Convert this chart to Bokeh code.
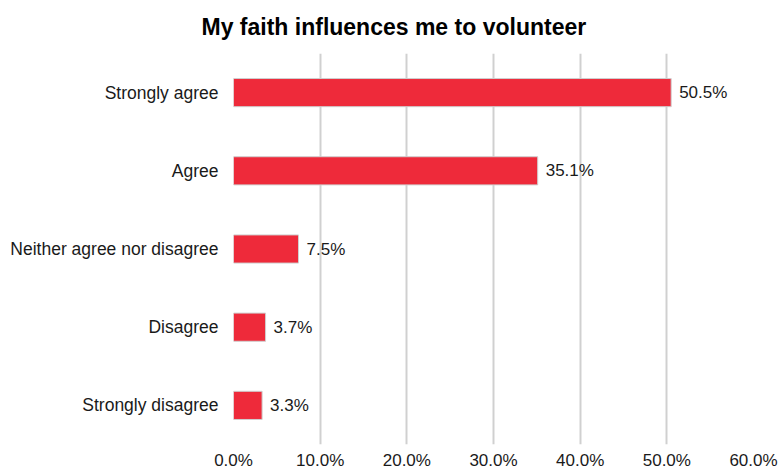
from bokeh.plotting import figure
from bokeh.models import ColumnDataSource, FactorRange, Range1d, PrintfTickFormatter, FixedTicker
from bokeh.core.properties import value
from bokeh.embed import file_html
from bokeh.resources import INLINE

categories = ["Strongly agree", "Agree", "Neither agree nor disagree", "Disagree", "Strongly disagree"]
percents = [50.5, 35.1, 7.5, 3.7, 3.3]
x_ticks = [0, 10, 20, 30, 40, 50, 60]
title_text = "My faith influences me to volunteer"

labels = [f"{v:.1f}%" for v in percents]
src = ColumnDataSource(dict(cat=categories, val=percents, lab=labels))

FONT = "Liberation Sans"

p = figure(width=778, height=472, output_backend="svg", toolbar_location=None,
           y_range=FactorRange(factors=list(reversed(categories)), range_padding=0),
           x_range=Range1d(0, 60),
           min_border_left=233, min_border_right=25, min_border_top=53, min_border_bottom=27)

p.title.text = title_text
p.title.text_font = FONT
p.title.text_font_size = "23px"
p.title.text_font_style = "bold"
p.title.text_color = "#000000"
p.title.align = "left"
p.title.vertical_align = "top"
p.title.offset = -32
p.title.standoff = 23

p.hbar(y="cat", right="val", left=0, height=0.36, source=src,
       fill_color="#EE2A3A", line_color="#cfcfcf", line_width=1)

p.text(x="val", y="cat", text="lab", source=src, x_offset=8,
       text_baseline="middle", text_align="left",
       text_font=value(FONT), text_font_size="17px", text_color="#1a1a1a")

p.outline_line_color = None
p.ygrid.grid_line_color = None
p.xgrid.grid_line_color = "#d0d0d0"
p.xgrid.grid_line_width = 2
p.xgrid.ticker = FixedTicker(ticks=x_ticks)

p.xaxis.ticker = FixedTicker(ticks=x_ticks)
p.xaxis.formatter = PrintfTickFormatter(format="%.1f%%")
p.xaxis.axis_line_color = None
p.xaxis.major_tick_line_color = None
p.xaxis.minor_tick_line_color = None
p.xaxis.major_tick_out = 0
p.xaxis.major_tick_in = 0
p.xaxis.major_label_standoff = 6
p.xaxis.major_label_text_line_height = 0.8
p.xaxis.major_label_text_font = FONT
p.xaxis.major_label_text_font_size = "17px"
p.xaxis.major_label_text_color = "#1a1a1a"

p.yaxis.axis_line_color = None
p.yaxis.major_tick_line_color = None
p.yaxis.minor_tick_line_color = None
p.yaxis.major_tick_out = 0
p.yaxis.major_tick_in = 0
p.yaxis.major_label_standoff = 15
p.yaxis.major_label_text_font = FONT
p.yaxis.major_label_text_font_size = "17.5px"
p.yaxis.major_label_text_color = "#1a1a1a"

open("out.html", "w").write(file_html(p, INLINE))
